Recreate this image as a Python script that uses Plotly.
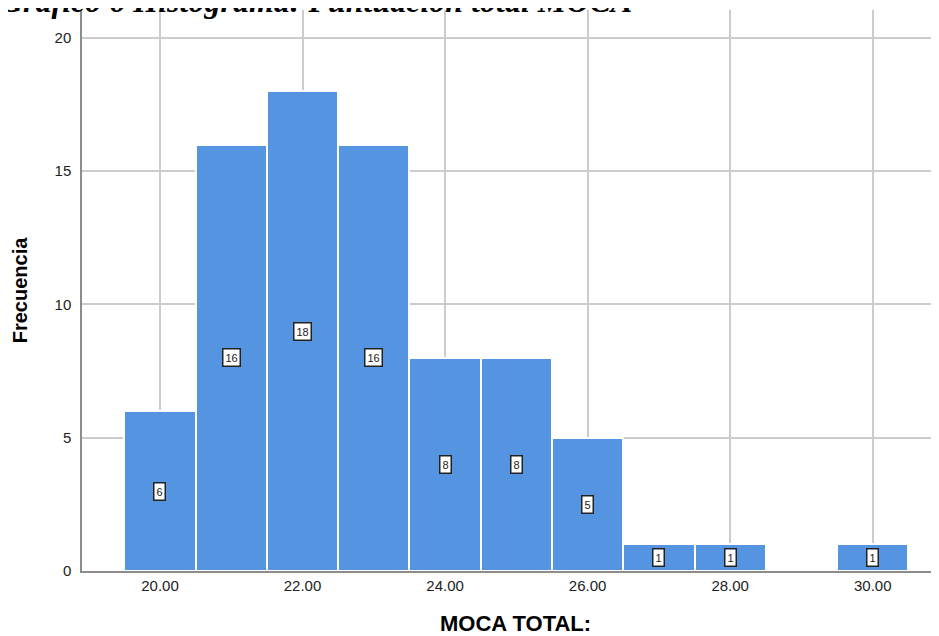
import plotly.graph_objects as go

# Data
scores = [20, 21, 22, 23, 24, 25, 26, 27, 28, 29, 30]
counts = [6, 16, 18, 16, 8, 8, 5, 1, 1, 0, 1]
x_ticks = [20, 22, 24, 26, 28, 30]
x_tick_labels = ["20.00", "22.00", "24.00", "26.00", "28.00", "30.00"]
y_ticks = [0, 5, 10, 15, 20]

# page has an 8px body margin
OFF = 8
W, H = 939 - OFF, 636 - OFF
ml, mr, mt, mb = 82 - OFF, 0, 10 - OFF, 65

fig = go.Figure()
fig.add_trace(go.Bar(
    x=scores, y=counts, width=1,
    marker=dict(color="#5594E1", line=dict(color="white", width=2)),
    hoverinfo="x+y",
))

annotations = []
for s, c in zip(scores, counts):
    if c > 0:
        annotations.append(dict(
            x=s, y=c / 2, xref="x", yref="y", text=str(c), showarrow=False,
            font=dict(family="Arial", size=11, color="#222"),
            bgcolor="white", bordercolor="#222", borderwidth=1.5, borderpad=2,
        ))

plot_w = W - ml - mr
annotations.append(dict(
    x=-(ml + OFF + 2) / plot_w, y=1, xref="paper", yref="paper", xanchor="left", yanchor="bottom",
    text="<b><i>Gráfico 6 Histograma: Puntuación total MOCA</i></b>", showarrow=False,
    font=dict(family="Liberation Serif", size=32, color="black"), yshift=-11,
))
# x-axis title
annotations.append(dict(
    x=(515 - 82) / plot_w, y=0, xref="paper", yref="paper", xanchor="center", yanchor="top",
    text="<b>MOCA TOTAL:</b>", showarrow=False,
    font=dict(family="Arial", size=22, color="black"), yshift=-38,
))

fig.update_layout(
    width=W, height=H,
    margin=dict(l=ml, r=mr, t=mt, b=mb),
    paper_bgcolor="white", plot_bgcolor="white",
    showlegend=False,
    bargap=0,
    annotations=annotations,
    xaxis=dict(
        range=[18.906, 30.93], tickmode="array", tickvals=x_ticks, ticktext=x_tick_labels,
        showgrid=True, gridcolor="#cccccc", gridwidth=1.5,
        showline=True, linecolor="#8c8c8c", linewidth=1.5,
        ticks="", tickfont=dict(family="Arial", size=15, color="#222"),
        zeroline=False,
    ),
    yaxis=dict(
        range=[0, 21.05], tickmode="array", tickvals=y_ticks,
        showgrid=True, gridcolor="#cccccc", gridwidth=1.5,
        showline=True, linecolor="#8c8c8c", linewidth=1.5,
        ticks="", tickfont=dict(family="Arial", size=15, color="#222"),
        ticklabelstandoff=6,
        title=dict(text="<b>Frecuencia</b>", font=dict(family="Arial", size=20, color="black"), standoff=22),
        zeroline=False,
    ),
)

fig.write_html("out.html")
